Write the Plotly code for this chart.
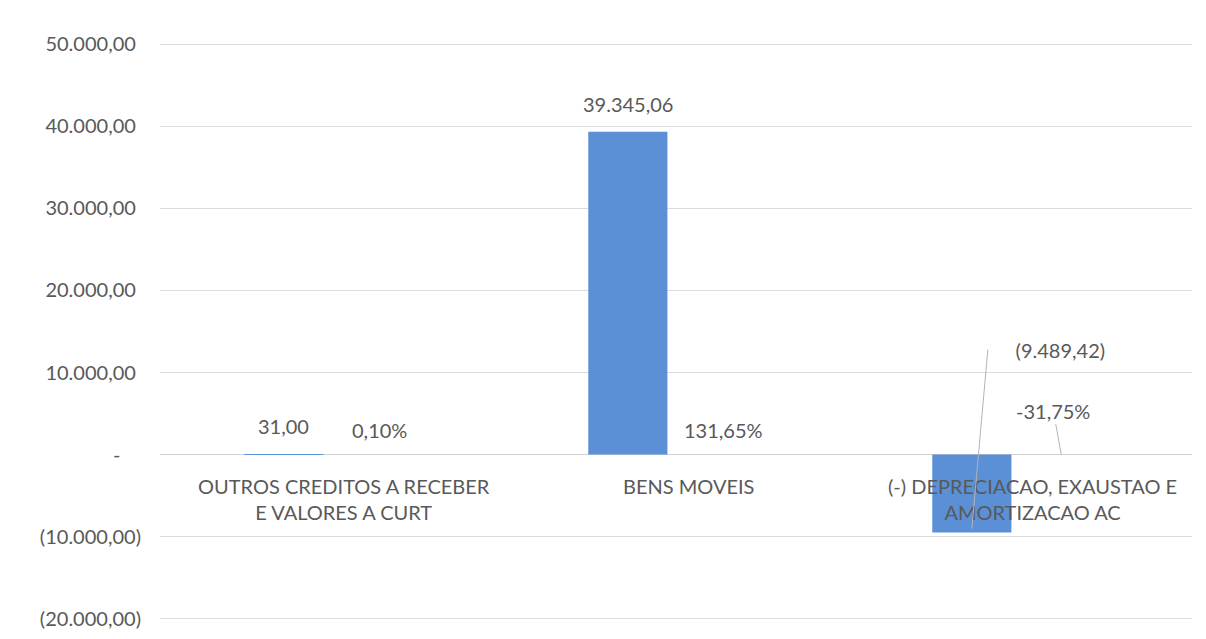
import plotly.graph_objects as go

categories = ["OUTROS CREDITOS A RECEBER<br>E VALORES A CURT", "BENS MOVEIS",
              "(-) DEPRECIACAO, EXAUSTAO E<br>AMORTIZACAO AC"]
values = [31.00, 39345.06, -9489.42]
percents = [0.10, 131.65, -31.75]
tick_values = [50000, 40000, 30000, 20000, 10000, 0, -10000, -20000]

FONT = "Lato"
GRAY = "#595959"
BAR = "#5B8FD6"
LEADER = "#b4b4b4"


def fmt_num(v):
    s = f"{abs(v):,.2f}".replace(",", "X").replace(".", ",").replace("X", ".")
    if v < 0:
        return f"({s})"
    if v == 0:
        return "-\u00a0\u00a0\u00a0\u00a0"
    return s + "\u00a0"


def fmt_pct(p):
    return f"{p:.2f}".replace(".", ",") + "%"


xs = list(range(len(categories)))

fig = go.Figure()
fig.add_trace(go.Bar(
    x=xs, y=values, width=0.23, offset=-0.255,
    marker=dict(color=BAR, line=dict(width=0)),
    hoverinfo="skip",
))

annotations = []
# category labels at zero line
for i, c in enumerate(categories):
    annotations.append(dict(x=i, y=0, xref="x", yref="y", text=c, showarrow=False,
                            yanchor="top", yshift=-17, xshift=12,
                            font=dict(family=FONT, size=20, color=GRAY)))
# value labels
for i, v in enumerate(values):
    if v >= 0:
        annotations.append(dict(x=i - 0.14, y=v, xref="x", yref="y", text=fmt_num(v).strip(),
                                showarrow=False, yanchor="bottom", yshift=14,
                                font=dict(family=FONT, size=20, color=GRAY)))
    else:
        annotations.append(dict(x=i - 0.14, y=v * 0.95, xref="x", yref="y",
                                text="\u00a0" * 5 + fmt_num(v),
                                showarrow=True, arrowhead=0, arrowwidth=1, arrowcolor=LEADER,
                                ax=16, ay=-179, xanchor="left",
                                font=dict(family=FONT, size=20, color=GRAY)))
# percent labels
for i, p in enumerate(percents):
    if p >= 0:
        annotations.append(dict(x=i + 0.137, y=0, xref="x", yref="y", text=fmt_pct(p),
                                showarrow=False, yanchor="bottom", yshift=11,
                                font=dict(family=FONT, size=20, color=GRAY)))
    else:
        annotations.append(dict(x=i + 0.12, y=0, xref="x", yref="y", text=fmt_pct(p),
                                showarrow=True, arrowhead=0, arrowwidth=1, arrowcolor=LEADER,
                                ax=-8, ay=-44,
                                font=dict(family=FONT, size=20, color=GRAY)))

fig.update_layout(
    width=1190, height=623,
    margin=dict(l=152, r=6, t=35, b=11, autoexpand=False),
    paper_bgcolor="white", plot_bgcolor="white",
    showlegend=False,
    annotations=annotations,
    xaxis=dict(range=[-0.5, 2.5], showticklabels=False, showgrid=False, zeroline=False,
               showline=False, fixedrange=True, automargin=False),
    yaxis=dict(range=[-20150, 50150], tickvals=tick_values,
               ticktext=[fmt_num(v) for v in tick_values],
               showgrid=True, gridcolor="#dcdcdc", gridwidth=1,
               zeroline=True, zerolinecolor="#d0d0d0", zerolinewidth=1,
               showline=False, ticklabelstandoff=18, automargin=False,
               tickfont=dict(family=FONT, size=20, color=GRAY)),
)

fig.write_html("out.html")
